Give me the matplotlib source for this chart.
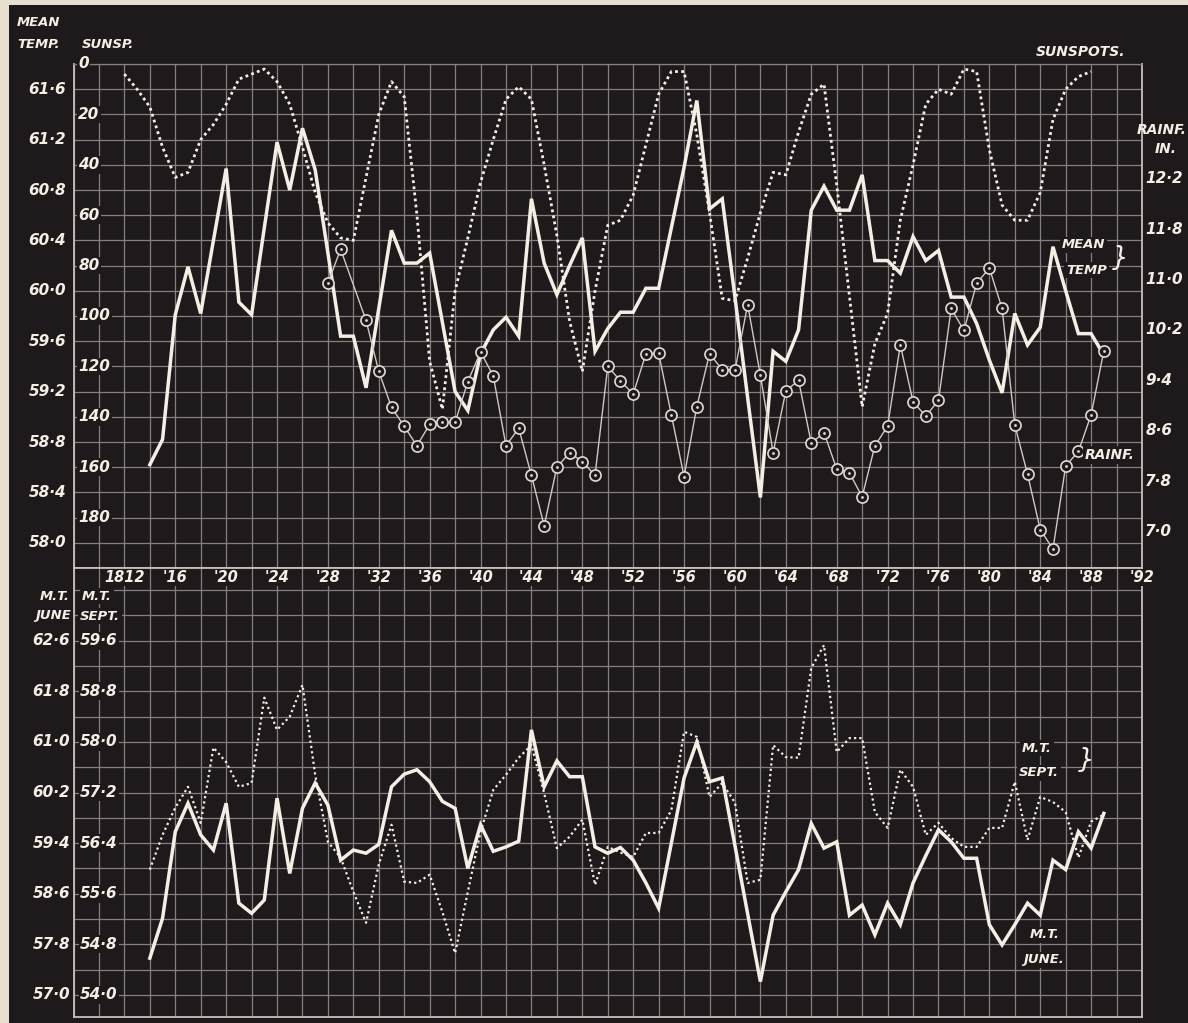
import matplotlib
matplotlib.use('Agg')
import matplotlib.pyplot as plt
import matplotlib.transforms as mtrans
from matplotlib.patches import Rectangle
import numpy as np

# ---------------- data ----------------
years_temp = list(range(1814, 1890))
mean_temp = [58.62, 58.82, 59.81, 60.19, 59.82, 60.40,                  # 1814-1819
             60.97, 59.91, 59.81, 60.50, 61.18, 60.80, 61.29, 60.96, 60.30, 59.64,  # 1820s
             59.64, 59.23, 59.86, 60.48, 60.22, 60.22, 60.30, 59.75, 59.20, 59.05,  # 1830s
             59.50, 59.69, 59.79, 59.64, 60.73, 60.22, 59.97, 60.20, 60.42, 59.52,  # 1840s
             59.70, 59.83, 59.83, 60.02, 60.02, 60.50, 60.98, 61.51, 60.65, 60.73,  # 1850s
             59.95, 59.15, 58.36, 59.52, 59.44, 59.69, 60.64, 60.83, 60.64, 60.64,  # 1860s
             60.92, 60.24, 60.24, 60.14, 60.43, 60.24, 60.32, 59.95, 59.95, 59.74,  # 1870s
             59.45, 59.19, 59.82, 59.57, 59.71, 60.35, 60.00, 59.66, 59.66, 59.49]  # 1880s

years_sun = list(range(1812, 1889))
sunspots = [4, 10, 17, 33, 45, 43, 30, 24,                     # 1812-1819
            16, 6, 4, 2, 7, 16, 33, 51, 63, 69,                  # 1820s
            70, 45, 20, 7, 13, 60, 118, 137, 90, 69,             # 1830s
            47, 30, 14, 9, 14, 40, 68, 102, 122, 90,             # 1840s
            64, 62, 52, 32, 12, 3, 3, 28, 59, 93,                # 1850s
            94, 77, 59, 43, 44, 27, 12, 8, 48, 92,               # 1860s
            136, 111, 99, 62, 40, 16, 10, 12, 2, 3,              # 1870s
            34, 56, 62, 62, 51, 22, 10, 5, 3]                    # 1880-1888

years_rain = [1828, 1829] + list(range(1831, 1890))
rainfall = [10.94, 11.48,                                          # 1828-1829
            10.35, 9.54, 8.97, 8.67, 8.36, 8.70, 8.73, 8.73, 9.38,  # 1831-1839
            9.85, 9.47, 8.36, 8.64, 7.89, 7.09, 8.02, 8.25, 8.11, 7.89,   # 1840s
            9.62, 9.39, 9.18, 9.82, 9.83, 8.85, 7.87, 8.98, 9.82, 9.57,   # 1850s
            9.56, 10.60, 9.48, 8.25, 9.23, 9.40, 8.40, 8.57, 7.99, 7.93,  # 1860s
            7.55, 8.36, 8.67, 9.96, 9.06, 8.83, 9.08, 10.54, 10.19, 10.94,  # 1870s
            11.18, 10.54, 8.69, 7.91, 7.03, 6.72, 8.04, 8.27, 8.85, 9.87]   # 1880s

years_june = list(range(1814, 1890))
june_temp = [57.58, 58.21, 59.58, 60.03, 59.53, 59.29,                 # 1814-1819
             60.03, 58.45, 58.29, 58.50, 60.11, 58.92, 59.95, 60.35, 60.00, 59.13,  # 1820s
             59.29, 59.24, 59.38, 60.29, 60.49, 60.56, 60.37, 60.06, 59.95, 59.00,  # 1830s
             59.69, 59.27, 59.34, 59.43, 61.19, 60.29, 60.70, 60.45, 60.45, 59.34,  # 1840s
             59.24, 59.33, 59.13, 58.77, 58.37, 59.40, 60.43, 61.00, 60.37, 60.43,  # 1850s
             59.36, 58.28, 57.21, 58.26, 58.63, 58.98, 59.71, 59.32, 59.42, 58.26,  # 1860s
             58.42, 57.95, 58.45, 58.11, 58.77, 59.20, 59.61, 59.42, 59.16, 59.16,  # 1870s
             58.11, 57.79, 58.11, 58.45, 58.26, 59.13, 58.98, 59.58, 59.32, 59.87]  # 1880s

years_sept = list(range(1814, 1890))
sept_temp = [55.98, 56.53, 56.96, 57.29, 56.72, 57.91,                 # 1814-1819
             57.68, 57.29, 57.35, 58.70, 58.19, 58.40, 58.90, 57.48, 56.42, 56.17,  # 1820s
             55.63, 55.14, 56.06, 56.69, 55.79, 55.77, 55.90, 55.31, 54.66, 55.63,  # 1830s
             56.58, 57.24, 57.48, 57.75, 57.95, 57.19, 56.32, 56.50, 56.77, 55.74,  # 1840s
             56.34, 56.25, 56.18, 56.56, 56.56, 56.92, 58.16, 58.08, 57.13, 57.35,  # 1850s
             57.04, 55.77, 55.82, 57.95, 57.76, 57.75, 59.17, 59.53, 57.84, 58.06,  # 1860s
             58.06, 56.89, 56.64, 57.56, 57.29, 56.53, 56.72, 56.48, 56.34, 56.34,  # 1870s
             56.64, 56.64, 57.37, 56.45, 57.13, 57.05, 56.89, 56.17, 56.74, 56.85]  # 1880s

year_ticks = list(range(1812, 1893, 4))
year_labels = ['1812'] + ["'%02d" % (y % 100) for y in year_ticks[1:]]
sun_ticks = list(range(0, 181, 20))
temp_ticks = [61.6, 61.2, 60.8, 60.4, 60.0, 59.6, 59.2, 58.8, 58.4, 58.0]
rain_ticks = [12.6, 11.8, 11.0, 10.2, 9.4, 8.6, 7.8, 7.0]
rain_labels = ['12·2', '11·8', '11·0', '10·2', '9·4', '8·6', '7·8', '7·0']
june_ticks = [62.6, 61.8, 61.0, 60.2, 59.4, 58.6, 57.8, 57.0]
sept_ticks = [59.6, 58.8, 58.0, 57.2, 56.4, 55.6, 54.8, 54.0]

# ---------------- styling ----------------
W, H = 1188, 1023
BG = '#1e1a1b'
PAPER = '#e7e0cf'
INK = '#f4efe5'
GRID = '#85807e'
SPINE = '#c6c0b8'
FONT = dict(family='DejaVu Sans', style='italic', weight='bold', color=INK)


def fx(px):
    return px / W


def fy(py):
    return 1 - py / H


def dec(v):
    return ('%.1f' % v).replace('.', '·')


fig = plt.figure(figsize=(W / 100, H / 100), dpi=100)
fig.patch.set_facecolor(PAPER)
fig.patches.append(Rectangle((fx(9), 0), 1 - fx(9), fy(5), transform=fig.transFigure,
                             facecolor=BG, edgecolor='none', zorder=-10))

L, R = 73.5, 1142
ax1 = fig.add_axes([fx(L), fy(568), fx(R) - fx(L), fy(64) - fy(568)])
ax2 = fig.add_axes([fx(L), fy(1017), fx(R) - fx(L), fy(568) - fy(1017)])

for ax in (ax1, ax2):
    ax.set_facecolor(BG)
    ax.set_xlim(1808, 1892)
    ax.set_xticks(range(1808, 1893, 2))
    ax.tick_params(length=0, labelbottom=False, labelleft=False)
    ax.grid(True, color=GRID, lw=0.9)
    ax.set_axisbelow(True)
    for s in ax.spines.values():
        s.set_color(SPINE)
        s.set_linewidth(1.3)

ax1.spines['top'].set_color(GRID)
ax1.spines['top'].set_linewidth(0.9)
ax1.set_ylim(200, 0)
ax1.set_yticks(range(0, 201, 10))
ax2.set_ylim(56.65, 63.75)
ax2.set_yticks(np.arange(57.0, 63.5, 0.4))

# ---------------- top panel ----------------
axT = ax1.twinx()
axT.set_ylim(57.8, 61.8)
axR = ax1.twinx()
axR.set_ylim(6.42, 14.42)
for a in (axT, axR):
    a.set_xlim(1808, 1892)
    a.set_yticks([])
    for s in a.spines.values():
        s.set_visible(False)

ax1.plot(years_sun, sunspots, color=INK, lw=2.0, linestyle=(0, (1.0, 1.2)),
         dash_capstyle='butt', zorder=3)
axR.plot(years_rain, rainfall, color='#cfc9c2', lw=1.0, zorder=3)
axR.plot(years_rain, rainfall, linestyle='none', marker='o', ms=8.0, mew=1.2,
         mfc=BG, mec='#e0dbd3', zorder=4)
axR.plot(years_rain, rainfall, linestyle='none', marker='o', ms=2.0, mew=0,
         mfc='#e0dbd3', zorder=5)
axT.plot(years_temp, mean_temp, color=INK, lw=2.5, solid_joinstyle='miter', zorder=6)

tb1 = mtrans.blended_transform_factory(ax1.transAxes, ax1.transData)
for v in sun_ticks:
    ax1.text(0.0045, v, str(v), transform=tb1, ha='left', va='center', fontsize=11,
             bbox=dict(facecolor=BG, edgecolor='none', pad=1.0), zorder=8, **FONT)
tbT = mtrans.blended_transform_factory(axT.transAxes, axT.transData)
for v in temp_ticks:
    axT.text(-0.0068, v, dec(v), transform=tbT, ha='right', va='center', fontsize=11,
             clip_on=False, **FONT)
tbR = mtrans.blended_transform_factory(axR.transAxes, axR.transData)
for v, lab in zip(rain_ticks, rain_labels):
    axR.text(1.003, v, lab, transform=tbR, ha='left', va='center', fontsize=11,
             clip_on=False, **FONT)

# ---------------- bottom panel ----------------
axS = ax2.twinx()
axS.set_ylim(53.65, 60.75)
axS.set_xlim(1808, 1892)
axS.set_yticks([])
for s in axS.spines.values():
    s.set_visible(False)

axS.plot(years_sept, sept_temp, color=INK, lw=1.6, linestyle=(0, (1.0, 1.4)),
         dash_capstyle='butt', zorder=3)
ax2.plot(years_june, june_temp, color=INK, lw=2.5, solid_joinstyle='miter', zorder=4)

tb2 = mtrans.blended_transform_factory(ax2.transAxes, ax2.transData)
for v in june_ticks:
    ax2.text(-0.003, v, dec(v), transform=tb2, ha='right', va='center', fontsize=11,
             clip_on=False, **FONT)
tbS = mtrans.blended_transform_factory(axS.transAxes, axS.transData)
for v in sept_ticks:
    axS.text(0.006, v, dec(v), transform=tbS, ha='left', va='center', fontsize=11,
             bbox=dict(facecolor=BG, edgecolor='none', pad=1.0), zorder=8, **FONT)

tbx = mtrans.blended_transform_factory(ax2.transData, ax2.transAxes)
for yv, lab in zip(year_ticks, year_labels):
    ax2.text(yv, 0.979, lab, transform=tbx, ha='center', va='center', fontsize=10.5,
             bbox=dict(facecolor=BG, edgecolor='none', pad=0.5), zorder=8, clip_on=False,
             **FONT)

# ---------------- annotations ----------------
def ftxt(px, py, s, size=9.5, ha='left', box=False, weight='bold'):
    kw = dict(ha=ha, va='center', fontsize=size, zorder=10,
              family='DejaVu Sans', style='italic', weight=weight, color=INK)
    if box:
        kw['bbox'] = dict(facecolor=BG, edgecolor='none', pad=1.2)
    fig.text(fx(px), fy(py), s, **kw)

ftxt(17, 22, 'MEAN')
ftxt(17, 45, 'TEMP.')
ftxt(82, 45, 'SUNSP.')
ftxt(1036, 52, 'SUNSPOTS.', size=10)
ftxt(1137, 130, 'RAINF.', size=10)
ftxt(1155, 149, 'IN.', size=10)

ftxt(1062, 245, 'MEAN', box=True)
ftxt(1066, 270, 'TEMP', box=True)
ftxt(1112, 258, '}', size=19, weight='normal')
ftxt(1085, 455, 'RAINF.', size=10, box=True)

ftxt(70, 596, 'M.T.', ha='right')
ftxt(71, 616, 'JUNE', ha='right')
ftxt(82, 596, 'M.T.', box=True)
ftxt(80, 616, 'SEPT.', box=True)

ftxt(1022, 748, 'M.T.', box=True)
ftxt(1019, 773, 'SEPT.', box=True)
ftxt(1078, 760, '}', size=19, weight='normal')
ftxt(1030, 935, 'M.T.', box=True)
ftxt(1023, 960, 'JUNE.', box=True)

fig.savefig('out.png', dpi=100, facecolor=fig.get_facecolor())
